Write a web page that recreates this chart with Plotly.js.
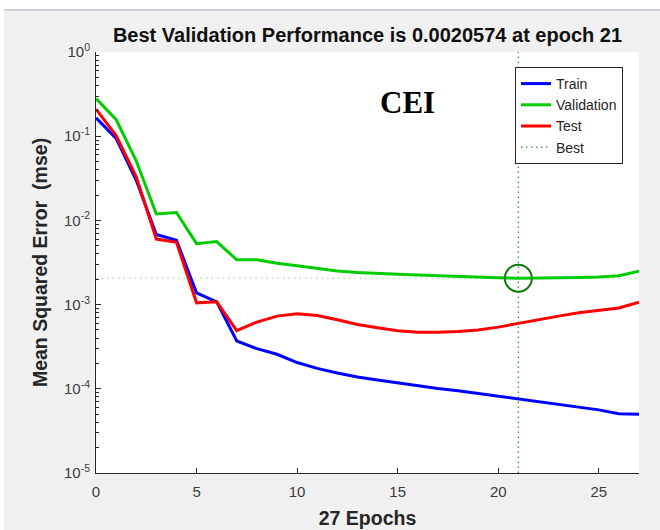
<!DOCTYPE html>
<html>
<head>
<meta charset="utf-8">
<script src="https://cdn.plot.ly/plotly-3.0.1.min.js"></script>
<style>
  html, body { margin: 0; padding: 0; background: #ffffff; width: 660px; height: 530px; overflow: hidden; }
  #frame { position: absolute; left: 4px; top: 9px; width: 656px; height: 519px; border-top: 2px solid #c9d0dc; background: #f0f0f0; }
  #chart { width: 656px; height: 519px; }
</style>
</head>
<body>
<div id="frame"><div id="chart"></div></div>
<script>
// ---- data ----
const epochs = [0,1,2,3,4,5,6,7,8,9,10,11,12,13,14,15,16,17,18,19,20,21,22,23,24,25,26,27];
const trainPerf = [0.165, 0.094, 0.030, 0.0068, 0.0058, 0.00138, 0.00108, 0.00037, 0.00030, 0.000257, 0.000205, 0.000175, 0.000154, 0.000138, 0.000127, 0.000117, 0.000108, 0.000101, 0.000095, 0.000088, 0.0000825, 0.0000759, 0.000070, 0.000065, 0.000060, 0.0000562, 0.0000505, 0.0000500];
const valPerf = [0.28, 0.158, 0.051, 0.0119, 0.0124, 0.0053, 0.0056, 0.0034, 0.0034, 0.0031, 0.0029, 0.0027, 0.0025, 0.0024, 0.00237, 0.0023, 0.00224, 0.00219, 0.00214, 0.0021, 0.00208, 0.0020574, 0.00206, 0.00208, 0.0021, 0.00213, 0.0022, 0.0025];
const testPerf = [0.21, 0.102, 0.033, 0.0060, 0.0055, 0.00105, 0.00108, 0.00049, 0.00062, 0.00073, 0.00078, 0.00074, 0.00066, 0.00058, 0.00053, 0.00049, 0.00047, 0.00047, 0.00048, 0.0005, 0.00054, 0.0006, 0.00066, 0.00073, 0.0008, 0.00085, 0.00091, 0.00107];
const bestEpoch = 21;
const bestPerf = 0.0020574;
const xRange = [0, 27];
const yExpRange = [-5, 0];
const yTickExps = [0, -1, -2, -3, -4, -5];
const xTickVals = [0, 5, 10, 15, 20, 25];
const seriesNames = ['Train', 'Validation', 'Test', 'Best'];
const titleText = 'Best Validation Performance is 0.0020574 at epoch 21';
const xLabel = '27 Epochs';
const yLabel = 'Mean Squared Error  (mse)';
const noteText = 'CEI';

// ---- build ----
const yTickVals = yTickExps.map(e => Math.pow(10, e));
const yTickText = yTickExps.map(e => '10<sup>' + e + '</sup>');
const yLo = Math.pow(10, yExpRange[0]), yHi = Math.pow(10, yExpRange[1]);

const traces = [
  { x: xRange, y: [bestPerf, bestPerf], mode: 'lines', showlegend: false, hoverinfo: 'skip',
    line: { color: 'rgba(0,160,0,0.45)', width: 1, dash: '1.5px,4px' } },
  { x: epochs, y: trainPerf, name: seriesNames[0], mode: 'lines', line: { color: '#0000ff', width: 3 } },
  { x: epochs, y: valPerf, name: seriesNames[1], mode: 'lines', line: { color: '#00cc00', width: 3 } },
  { x: epochs, y: testPerf, name: seriesNames[2], mode: 'lines', line: { color: '#ff0000', width: 3 } },
  { x: [bestEpoch, bestEpoch], y: [yLo, yHi], name: seriesNames[3], mode: 'lines',
    line: { color: '#1a9a1a', width: 1.2, dash: '1.5px,3.5px' } },
  { x: [bestEpoch], y: [bestPerf], mode: 'markers', showlegend: false, hoverinfo: 'skip',
    marker: { symbol: 'circle-open', size: 27, color: '#0e7a0e', line: { color: '#0e7a0e', width: 2 } } }
];

const axisFont = { family: 'Liberation Sans, Arial, sans-serif', size: 15, color: '#3c3c3c' };
const labelFont = { family: 'Liberation Sans, Arial, sans-serif', size: 19.5, color: '#262626', weight: 'bold' };

const layout = {
  width: 656, height: 519,
  margin: { l: 92, r: 21, t: 41, b: 57, pad: 0 },
  paper_bgcolor: '#f0f0f0',
  plot_bgcolor: '#ffffff',
  title: { text: '<b>' + titleText + '</b>', font: { family: 'Liberation Sans, Arial, sans-serif', size: 20, color: '#111111' },
           x: 0.5, xref: 'paper', xanchor: 'center', y: 0.9538, yref: 'container', yanchor: 'middle' },
  xaxis: {
    range: xRange, tickmode: 'array', tickvals: xTickVals, ticks: 'inside', ticklen: 5, tickwidth: 1,
    tickcolor: '#262626', showline: true, linecolor: '#262626', linewidth: 1, mirror: false,
    showgrid: false, zeroline: false, tickfont: axisFont, ticklabelstandoff: 5,
    title: { text: '<b>' + xLabel + '</b>', font: labelFont, standoff: 12 }
  },
  yaxis: {
    type: 'log', range: yExpRange, tickmode: 'array', tickvals: yTickVals, ticktext: yTickText,
    ticks: 'inside', ticklen: 5, tickwidth: 1, tickcolor: '#262626',
    showline: true, linecolor: '#262626', linewidth: 1, mirror: false,
    showgrid: false, zeroline: false, tickfont: axisFont, ticklabelstandoff: 2,
    minor: { ticks: 'inside', ticklen: 3, tickcolor: '#262626', dtick: 'D1', showgrid: false },
    title: { text: '<b>' + yLabel + '</b>', font: labelFont, standoff: 11 }
  },
  legend: {
    x: 0.9705, xanchor: 'right', y: 0.9644, yanchor: 'top',
    bgcolor: '#ffffff', bordercolor: '#262626', borderwidth: 1,
    font: { family: 'Liberation Sans, Arial, sans-serif', size: 14, color: '#262626' },
    tracegroupgap: 0, itemwidth: 30
  },
  annotations: [{
    text: '<b>' + noteText + '</b>', xref: 'paper', yref: 'paper', x: 0.573, y: 0.879,
    xanchor: 'center', yanchor: 'middle', showarrow: false,
    font: { family: 'Liberation Serif, Times New Roman, serif', size: 31, color: '#000000' }
  }],
  showlegend: true
};

Plotly.newPlot('chart', traces, layout, { displayModeBar: false, staticPlot: true });
</script>
</body>
</html>
